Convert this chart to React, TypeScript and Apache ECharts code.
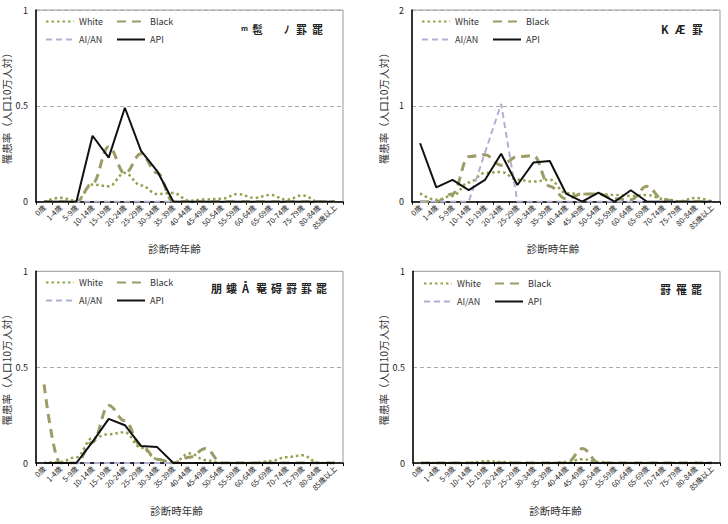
import { useEffect, useRef } from "react";
import * as echarts from "echarts";

// Age groups at diagnosis (x categories, shared by all four panels)
const AGE_GROUPS = [
  "0歳", "1-4歳", "5-9歳", "10-14歳", "15-19歳", "20-24歳", "25-29歳",
  "30-34歳", "35-39歳", "40-44歳", "45-49歳", "50-54歳", "55-59歳",
  "60-64歳", "65-69歳", "70-74歳", "75-79歳", "80-84歳", "85歳以上",
];

const SERIES_NAMES = ["White", "Black", "AI/AN", "API"];

// Panel headings (glyph groups) and y-axis ranges
const PANEL_TITLES = [
  ["ᵐ", "髢", "ﾉ", "罫", "罷"],
  ["K", "Æ", "罫"],
  ["朋", "螻", "Å", "罨", "碍", "罸", "罫", "罷"],
  ["罸", "罹", "罷"],
];
const Y_MAX = [1, 2, 1, 1];
const Y_STEP = [0.5, 1, 0.5, 0.5];

// Incidence per 100,000 — panel 1 (top left)
const white1 = [0, 0.02, 0.005, 0.09, 0.08, 0.15, 0.085, 0.04, 0.045, 0.005, 0.012, 0.016, 0.04, 0.02, 0.035, 0.01, 0.033, 0, 0];
const black1 = [0, 0, 0, 0.096, 0.287, 0.148, 0.25, 0.15, 0, 0, 0, 0, 0, 0, 0, 0, 0, 0, 0];
const aian1 = [0, 0, 0, 0, 0, 0, 0, 0, 0, 0, 0, 0, 0, 0, 0, 0, 0, 0, 0];
const api1 = [0, 0, 0, 0.344, 0.23, 0.49, 0.265, 0.16, 0, 0, 0, 0, 0, 0, 0, 0, 0, 0, 0];

// Panel 2 (top right)
const white2 = [0.087, 0.02, 0.06, 0.2, 0.3, 0.31, 0.23, 0.21, 0.23, 0.09, 0.08, 0.08, 0.07, 0.06, 0.07, 0.03, 0.005, 0.04, 0];
const black2 = [0, 0, 0.08, 0.47, 0.49, 0.38, 0.47, 0.48, 0.16, 0.03, 0.08, 0.08, 0.03, 0.02, 0.16, 0.02, 0, 0, 0];
const aian2 = [0, 0, 0, 0, 0.51, 1.02, 0, 0, 0, 0, 0, 0, 0, 0, 0, 0, 0, 0, 0];
const api2 = [0.61, 0.15, 0.227, 0.12, 0.227, 0.5, 0.174, 0.41, 0.425, 0.085, 0, 0.094, 0, 0.12, 0, 0, 0, 0, 0];

// Panel 3 (bottom left)
const white3 = [0, 0.005, 0.03, 0.13, 0.15, 0.16, 0.08, 0.02, 0, 0.05, 0.015, 0, 0, 0, 0.01, 0.03, 0.04, 0, 0];
const black3 = [0.41, 0, 0, 0.11, 0.3, 0.22, 0.09, 0.02, 0, 0.03, 0.075, 0, 0, 0, 0, 0, 0, 0, 0];
const aian3 = [0, 0, 0, 0, 0, 0, 0, 0, 0, 0, 0, 0, 0, 0, 0, 0, 0, 0, 0];
const api3 = [0, 0, 0, 0.11, 0.23, 0.197, 0.089, 0.083, 0, 0, 0, 0, 0, 0, 0, 0, 0, 0, 0];

// Panel 4 (bottom right)
const white4 = [0, 0, 0, 0, 0.01, 0.005, 0, 0, 0, 0.005, 0.02, 0.005, 0, 0, 0, 0, 0, 0, 0];
const black4 = [0, 0, 0, 0, 0, 0, 0, 0, 0, 0, 0.075, 0, 0, 0, 0, 0, 0, 0, 0];
const aian4 = [0, 0, 0, 0, 0, 0, 0, 0, 0, 0, 0, 0, 0, 0, 0, 0, 0, 0, 0];
const api4 = [0, 0, 0, 0, 0, 0, 0, 0, 0, 0, 0, 0, 0, 0, 0, 0, 0, 0, 0];

const PANEL_DATA = [
  [white1, black1, aian1, api1],
  [white2, black2, aian2, api2],
  [white3, black3, aian3, api3],
  [white4, black4, aian4, api4],
];

// Plot rectangles (left, top, width, height)
const GRIDS = [
  { left: 36, top: 10, width: 307, height: 191.7 },
  { left: 412, top: 10, width: 308, height: 191.7 },
  { left: 36, top: 271.3, width: 307, height: 191.7 },
  { left: 413, top: 271.3, width: 307, height: 191.7 },
];

// Legend item positions per panel: [White, Black, AI/AN, API] as [x, y]
const LEGEND_POS = [
  [[45, 17], [116, 17], [45, 35], [116, 35]],
  [[421, 17], [492, 17], [421, 35], [492, 35]],
  [[45, 278], [116, 278], [45, 296], [116, 296]],
  [[423, 279], [494, 279], [423, 297], [494, 297]],
];

// Heading glyph left edges and top per panel
const TITLE_X = [
  [241, 252, 284, 296, 312],
  [661, 675, 692],
  [211, 226, 242, 256, 271, 286, 301, 316],
  [660, 676, 691],
];
const TITLE_Y = [23, 23, 282, 283];
const XNAME_SHIFT = [30, 26, 26, 22];

const STYLES: any[] = [
  { color: "#8FA34B", lineStyle: { type: [2.5, 3], width: 2.5 }, smooth: 0.4 },
  { color: "#9D9B68", lineStyle: { type: [9, 6], width: 3 }, smooth: 0.4 },
  { color: "#B3AED3", lineStyle: { type: [6, 4], width: 2 }, smooth: false },
  { color: "#111111", lineStyle: { type: "solid", width: 2 }, smooth: false },
];

const FONT = "'Noto Sans CJK JP', 'Noto Sans', sans-serif";

export default function App() {
  const ref = useRef<HTMLDivElement>(null);

  useEffect(() => {
    document.body.style.margin = "0";
    const chart = echarts.init(ref.current!, null, { renderer: "svg" });

    const grid = GRIDS.map((g) => ({
      ...g,
      show: true,
      borderColor: "#999",
      borderWidth: 1,
      containLabel: false,
    }));

    const xAxis = GRIDS.map((_, i) => ({
      type: "category",
      gridIndex: i,
      data: AGE_GROUPS,
      boundaryGap: true,
      name: "診断時年齢",
      nameLocation: "middle",
      nameGap: 42,
      nameTextStyle: {
        fontSize: 10.5,
        color: "#333",
        fontFamily: FONT,
        padding: [0, XNAME_SHIFT[i], 0, 0],
      },
      axisLine: { lineStyle: { color: "#000", width: 1.5 } },
      axisTick: { show: true, length: 3, lineStyle: { color: "#000" } },
      axisLabel: {
        interval: 0,
        rotate: 45,
        fontSize: 7.5,
        color: "#222",
        margin: 4,
        fontFamily: FONT,
      },
      splitLine: { show: false },
    }));

    const yAxis = GRIDS.map((_, i) => ({
      type: "value",
      gridIndex: i,
      min: 0,
      max: Y_MAX[i],
      interval: Y_STEP[i],
      name: "罹患率（人口10万人対）",
      nameLocation: "middle",
      nameRotate: 90,
      nameGap: 23,
      nameTextStyle: { fontSize: 10.5, color: "#333", fontFamily: FONT },
      axisLine: { show: true, lineStyle: { color: "#000", width: 1.5 } },
      axisTick: { show: false },
      axisLabel: { fontSize: 9, color: "#222", margin: 8, fontFamily: FONT },
      splitLine: { show: true, lineStyle: { color: "#aaa", type: [4, 3] } },
    }));

    const series: any[] = [];
    PANEL_DATA.forEach((panel, p) => {
      panel.forEach((values, s) => {
        series.push({
          type: "line",
          name: SERIES_NAMES[s],
          xAxisIndex: p,
          yAxisIndex: p,
          data: values,
          symbol: "none",
          smooth: STYLES[s].smooth,
          smoothMonotone: "x",
          itemStyle: { color: STYLES[s].color },
          lineStyle: { color: STYLES[s].color, ...STYLES[s].lineStyle },
          z: 2 + s,
        });
      });
    });

    const legend: any[] = [];
    LEGEND_POS.forEach((panel) => {
      panel.forEach(([x, y], s) => {
        legend.push({
          data: [SERIES_NAMES[s]],
          left: x,
          top: y,
          padding: 0,
          itemWidth: 28,
          itemHeight: 10,
          itemGap: 0,
          selectedMode: false,
          itemStyle: { opacity: 0 },
          textStyle: { fontSize: 9, color: "#333", fontFamily: FONT },
        });
      });
    });

    const title: any[] = [];
    PANEL_TITLES.forEach((glyphs, p) => {
      glyphs.forEach((g, k) => {
        title.push({
          text: g,
          left: TITLE_X[p][k],
          top: TITLE_Y[p],
          padding: 0,
          textStyle: { fontSize: 11, fontWeight: "bold", color: "#222", fontFamily: FONT },
        });
      });
    });

    chart.setOption({
      animation: false,
      backgroundColor: "#fff",
      title,
      legend,
      grid,
      xAxis,
      yAxis,
      series,
    });

    return () => chart.dispose();
  }, []);

  return <div ref={ref} style={{ width: 728, height: 524 }} />;
}
